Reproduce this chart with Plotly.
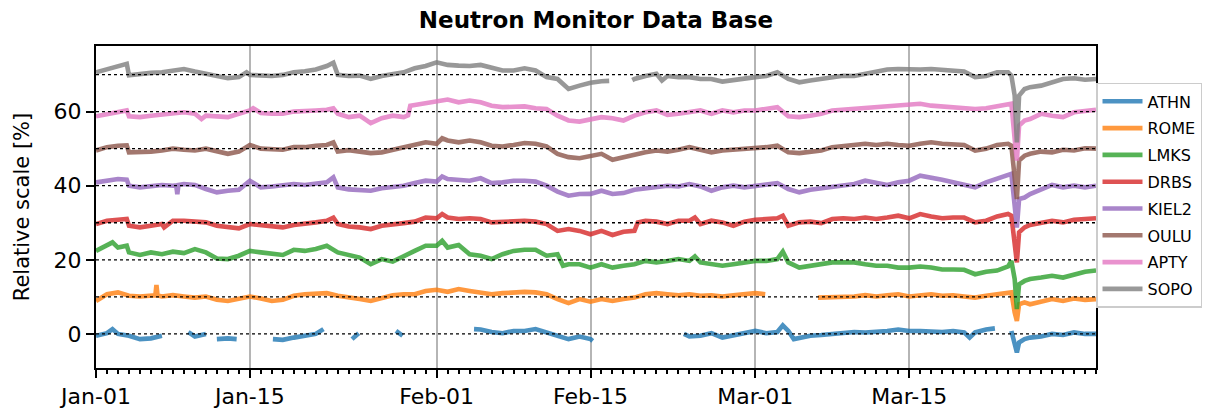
import pandas as pd
import plotly.graph_objects as go

START = "2024-01-01"
END = "2024-04-01"
STATIONS = ["ATHN", "ROME", "LMKS", "DRBS", "KIEL2", "OULU", "APTY", "SOPO"]
OFFSETS = [0, 10, 20, 30, 40, 50, 60, 70]
COLORS = ["#1f77b4", "#ff7f0e", "#2ca02c", "#d62728",
          "#9467bd", "#8c564b", "#e377c2", "#7f7f7f"]
MAJOR_TICKS = ["2024-01-01", "2024-01-15", "2024-02-01",
               "2024-02-15", "2024-03-01", "2024-03-15"]
Y_TICKS = [0, 20, 40, 60]

# Daily readings (day 0 = Jan-01 ... day 91 = Apr-01), relative deviation in %
N = None
ATHN = [-0.5, 0.2, 0.0, -0.5, -1.4, -1.2, -0.5, N, N, -0.7,
        0.0, -1.4, -1.2, N, N, N, N, -1.6, -1.0, -0.5,
        0.0, N, N, N, N, N, N, N, N, N,
        N, N, N, N, N, 1.2, 0.5, 0.2, 0.8, 0.8,
        1.3, 0.4, -0.5, -1.4, -0.7, -1.4, N, N, N, N,
        N, N, N, N, -0.7, -0.5, 0.2, -1.0, -0.5, 0.2,
        0.8, 0.2, 0.5, 0.8, -1.0, -0.5, -0.3, 0.0, 0.2, 0.5,
        0.4, 0.5, 0.8, 1.2, 0.8, 0.8, 0.5, 0.5, 0.8, 0.4,
        0.4, 1.2, N, N, -2.3, -1.0, -0.7, 0.0, -0.3, 0.4,
        0.0, 0.0]
ROME = [-1.1, 0.7, 1.2, 0.3, 0.1, 0.45, 0.1, 0.45, 0.1, -0.2,
        0.1, -0.8, -1.1, -0.6, 0.1, -0.45, -1.1, -0.8, 0.3, 0.7,
        0.7, 1.0, 0.3, -0.3, -0.6, -1.1, -0.2, 0.45, 0.7, 0.7,
        1.6, 1.9, 1.35, 2.1, 1.6, 1.0, 0.7, 1.0, 1.2, 1.35,
        1.2, 0.7, -0.6, -1.7, -0.6, -1.3, -0.6, -1.1, -0.6, -0.2,
        0.7, 1.0, 0.7, 0.45, 0.7, 0.3, 0.45, 0.1, 0.45, 0.7,
        1.0, N, N, N, N, N, -0.2, 0.1, -0.2, 0.1,
        0.45, 0.1, 0.45, 0.7, 0.1, 0.45, 0.7, 0.3, 0.45, 0.1,
        -0.2, 0.3, 0.7, 1.35, -2.0, -2.0, -1.35, -0.6, -1.1, -0.45,
        -0.8, -0.6]
LMKS = [2.4, 3.8, 3.3, 2.0, 1.3, 2.0, 1.5, 2.2, 1.8, 2.9,
        2.0, 0.35, 0.2, 1.1, 2.4, 2.0, 1.5, 1.3, 2.7, 2.4,
        2.9, 3.8, 2.0, 1.4, 0.6, -1.2, 0.2, -0.5, 1.1, 2.4,
        3.8, 3.8, 3.3, 4.0, 1.5, 1.1, 0.2, 1.5, 2.4, 2.7,
        2.7, 1.1, 1.5, -1.2, -1.2, -2.1, -1.2, -2.1, -1.6, -1.2,
        -0.3, -0.7, -0.3, 0.2, -0.3, -0.7, -1.2, -1.6, -1.2, -0.7,
        -0.3, -0.3, 0.2, -0.7, -2.1, -1.6, -1.2, -0.7, -0.7, -0.7,
        -1.2, -1.6, -1.6, -2.1, -2.1, -1.8, -2.1, -2.6, -2.6, -2.7,
        -3.9, -3.2, -2.9, -1.8, -6.6, -5.2, -4.8, -4.3, -4.8, -3.9,
        -3.2, -2.9]
DRBS = [-0.35, 0.55, 0.8, -0.8, -1.25, -0.8, -0.35, 0.55, 0.55, 0.3,
        0.1, -0.8, -1.25, -1.5, -0.35, -0.6, -0.8, -1.25, -0.6, -0.1,
        0.1, 0.55, -0.35, -1.0, -1.25, -1.7, -0.8, -0.6, -0.1, 0.3,
        1.4, 1.2, 1.4, 1.0, 1.2, 1.0, 0.1, 0.3, 0.55, 0.55,
        0.3, -0.35, -2.2, -1.7, -2.2, -3.1, -2.2, -3.3, -2.45, -2.2,
        0.55, 0.3, -0.35, 0.55, 0.55, -0.35, 0.55, 0.1, -0.8, 0.3,
        0.8, 1.0, 1.2, -0.8, 0.1, 0.3, -0.1, 1.0, 1.2, 1.0,
        1.4, 1.0, 1.4, 1.9, 1.2, 2.35, 1.7, 1.2, 1.4, 1.4,
        0.1, 0.55, 1.7, 2.35, -2.6, -0.6, 0.1, 0.55, 0.1, 0.8,
        1.0, 1.2]
KIEL2 = [0.9, 1.35, 1.8, 0.0, -0.45, 0.0, 0.2, 0.0, 0.45, 0.2,
         -0.9, -1.8, -1.35, -1.1, 1.35, -0.45, -0.2, 0.0, 0.45, 0.2,
         0.7, 0.9, -0.45, -1.0, -1.1, -1.35, -0.7, -0.45, 0.0, 0.7,
         1.35, 1.1, 1.8, 1.6, 1.35, 2.0, 0.7, 0.9, 1.35, 1.35,
         1.1, 0.0, -1.6, -2.7, -2.25, -2.2, -1.35, -2.25, -2.0, -1.1,
         -0.7, -0.45, 0.0, -0.2, 0.45, -0.2, -1.35, -0.45, 0.0, -0.45,
         0.0, 0.45, 0.7, -0.9, -1.8, -1.1, -0.7, -0.2, 0.1, 0.45,
         1.35, 0.9, 0.2, 0.9, 1.35, 2.7, 2.25, 1.6, 0.9, 0.2,
         -0.45, 0.9, 1.8, 2.9, -3.6, -2.25, -0.9, 0.2, -0.45, 0.0,
         -0.45, 0.0]
OULU = [-0.5, 0.4, 0.8, -1.0, -1.0, -0.8, -0.5, 0.0, -0.3, -0.5,
        0.0, -0.8, -1.4, -0.8, 1.0, 0.0, -0.3, -0.3, 0.4, 0.4,
        0.8, 1.0, -0.8, -0.4, -0.8, -1.2, -1.0, -0.3, 0.1, 1.0,
        1.7, 1.3, 2.2, 1.7, 2.2, 1.7, 0.8, 0.6, 1.0, 1.5,
        1.3, 0.6, -1.4, -2.3, -2.6, -2.0, -1.4, -3.0, -2.3, -1.4,
        -1.0, -0.5, -0.8, -0.3, 0.4, -0.3, -1.0, -0.5, -0.3, -0.3,
        0.0, 0.4, 0.8, -1.0, -1.2, -0.8, -0.5, 0.4, 0.8, 1.0,
        1.3, 1.0, 1.3, 1.0, 0.8, 1.3, 1.7, 1.3, 1.0, 1.0,
        -0.5, 0.0, 1.0, 1.3, -3.2, -1.4, -0.8, -1.0, -0.3, -0.5,
        0.1, 0.0]
APTY = [-1.25, -0.6, 0.0, -1.25, -1.5, -1.1, -0.9, -0.6, -0.2, -0.6,
        -1.1, -1.25, -1.5, -0.6, 0.3, -0.4, -0.6, -0.6, 0.0, 0.0,
        0.3, 0.5, -0.6, -1.5, -1.1, -3.1, -1.8, -1.1, -1.5, 1.8,
        2.1, 2.5, 3.25, 2.5, 3.0, 2.5, 1.6, 1.2, 1.2, 1.4,
        0.9, 0.7, -1.1, -2.4, -2.7, -2.2, -1.5, -1.8, -2.4, -1.1,
        -0.2, 0.3, -0.9, -0.6, -0.2, 0.3, -0.6, 0.3, -0.2, 0.3,
        0.3, 0.7, 1.2, -1.25, -1.5, -1.1, -0.6, 0.3, 0.5, 0.7,
        0.9, 1.2, 1.2, 1.6, 1.8, 2.1, 1.6, 1.4, 1.4, 1.2,
        0.7, 0.9, 1.4, 2.1, -3.8, -2.0, -0.6, -1.1, -1.5, -0.2,
        0.3, 0.5]
SOPO = [0.6, 1.35, 2.0, -0.2, 0.2, 0.45, 0.6, 1.1, 1.5, 0.8,
        0.2, -0.3, -1.0, -0.7, -0.1, -0.4, -0.4, -0.1, 0.6, 0.9,
        1.35, 2.3, -0.1, -0.4, -0.3, -1.2, -0.4, 0.2, 0.6, 1.7,
        2.3, 3.3, 2.6, 2.4, 2.3, 2.6, 1.7, 1.1, 1.1, 1.7,
        1.1, -0.7, -1.2, -3.9, -3.0, -2.2, -1.8, N, N, -1.2,
        -0.4, 0.2, -0.4, -0.7, -0.7, -1.2, -1.2, -1.9, -1.4, -1.0,
        -0.7, -0.4, 0.6, -1.2, -2.1, -1.6, -1.2, -0.7, -0.35, -0.4,
        0.2, 0.6, 1.35, 1.5, 1.35, 1.35, 1.5, 1.35, 1.1, 0.8,
        -0.7, -0.4, 0.6, 0.6, -5.7, -3.4, -3.0, -2.1, -1.2, -1.0,
        -1.4, -1.2]

# Sub-daily readings (day, value): short spikes, gaps and the Mar-24 Forbush decrease
ATHN_X = [(1.5, 1.3), (8.4, 0.5), (10.5, N), (12.8, -1.4), (16.1, -1.4),
          (20.7, 1.3), (23.3, -1.4), (23.9, 0.2), (27.3, 0.8), (27.9, -0.5),
          (34.4, 1.3), (45.2, -1.9), (53.5, 0.0), (62.5, 2.3), (63.5, -1.4),
          (79.5, -1.0), (81.8, 1.5), (83.3, 0.8), (83.6, -3.2), (83.8, -5.0),
          (84.5, -1.4)]
ROME_X = [(5.4, 0.4), (5.5, 3.2), (5.6, 0.4), (60.9, 0.7), (65.7, -0.2),
          (83.3, 1.2), (83.6, -4.2), (83.8, -6.5), (84.5, -1.5)]
LMKS_X = [(1.5, 4.7), (2.8, 3.8), (31.5, 5.1), (42.5, -1.6), (54.5, 0.9),
          (62.5, 2.2), (83.3, -0.3), (83.6, -5.2), (83.8, -13.3), (84.5, -5.7)]
DRBS_X = [(2.8, 1.0), (6.2, -1.25), (21.6, 1.4), (31.5, 2.35), (49.3, 0.1),
          (54.5, 1.4), (62.5, 1.9), (83.3, 1.9), (83.6, -5.3), (83.8, -10.7),
          (84.5, -1.25)]
KIEL2_X = [(2.8, 1.6), (7.3, 0.1), (7.4, -2.3), (7.5, 0.2), (21.6, 2.25),
           (31.5, 2.5), (83.3, 3.2), (83.6, -5.4), (83.8, -11.3), (84.5, -3.2)]
OULU_X = [(2.8, 0.9), (21.6, 1.7), (31.5, 2.8), (83.3, 0.8), (83.6, -6.4),
          (83.8, -13.6), (84.5, -1.9)]
APTY_X = [(2.8, 0.3), (9.6, -2.0), (14.3, 0.9), (21.6, 0.9), (28.4, -1.0),
          (28.6, 1.6), (83.3, 2.1), (83.6, -7.4), (83.8, -13.2), (84.5, -2.4)]
SOPO_X = [(2.8, 2.9), (13.7, 0.6), (21.6, 3.2), (46.7, -1.7), (48.8, -1.5),
          (51.5, -1.6), (83.3, -0.3), (83.6, -5.7), (83.8, -18.3), (84.5, -3.9)]

DAILY = [ATHN, ROME, LMKS, DRBS, KIEL2, OULU, APTY, SOPO]
EXTRA = [ATHN_X, ROME_X, LMKS_X, DRBS_X, KIEL2_X, OULU_X, APTY_X, SOPO_X]

t0 = pd.Timestamp(START)


def build(daily, extra, off):
    pts = [(float(d), v) for d, v in enumerate(daily)] + list(extra)
    pts.sort(key=lambda p: p[0])
    t = [t0 + pd.Timedelta(days=d) for d, _ in pts]
    y = [None if v is None else v + off for _, v in pts]
    return t, y


fig = go.Figure()
for name, off, color, daily, extra in zip(STATIONS, OFFSETS, COLORS, DAILY, EXTRA):
    t, y = build(daily, extra, off)
    fig.add_trace(go.Scatter(
        x=t, y=y, mode="lines", name=name, legendgroup=name,
        line=dict(color=color, width=4.6), opacity=0.8, connectgaps=False))

for off in OFFSETS:
    fig.add_shape(type="line", xref="paper", x0=0, x1=1, yref="y", y0=off, y1=off,
                  line=dict(color="black", width=1.3, dash="dot"), layer="above")

fig.update_layout(
    width=1207, height=414,
    margin=dict(l=96, r=111, t=46, b=46, autoexpand=False),
    paper_bgcolor="white", plot_bgcolor="white",
    font=dict(family="DejaVu Sans", color="black", size=20),
    title=dict(text="<b>Neutron Monitor Data Base</b>", x=0.5, xref="paper",
               xanchor="center", y=0.952, yref="container", yanchor="middle",
               font=dict(size=23, family="DejaVu Sans", color="black")),
    xaxis=dict(type="date", range=[START, END], tickmode="array", tickvals=MAJOR_TICKS,
               tickformat="%b-%d", ticks="outside", ticklen=8, tickwidth=2,
               tickcolor="black", showline=True, linecolor="black", linewidth=2,
               mirror=True, showgrid=True, gridcolor="#b5b5b5", gridwidth=2,
               zeroline=False, tickfont=dict(size=22),
               minor=dict(tick0=START, dtick=86400000, ticks="outside", ticklen=4,
                          tickwidth=1.5, tickcolor="black", showgrid=False)),
    yaxis=dict(range=[-9.2, 77.7], tickmode="array", tickvals=Y_TICKS,
               ticks="outside", ticklen=8, tickwidth=2, tickcolor="black",
               showline=True, linecolor="black", linewidth=2, mirror=True,
               showgrid=False, zeroline=False, tickfont=dict(size=22),
               title=dict(text="Relative scale [%]", font=dict(size=21), standoff=18)),
    legend=dict(x=1.0, xref="paper", xanchor="left", y=0.536, yanchor="middle",
                font=dict(size=16, family="DejaVu Sans"), bgcolor="white",
                bordercolor="#cccccc", borderwidth=1.5, traceorder="grouped",
                tracegroupgap=3, itemwidth=40),
    showlegend=True,
)

fig.write_html("out.html")
